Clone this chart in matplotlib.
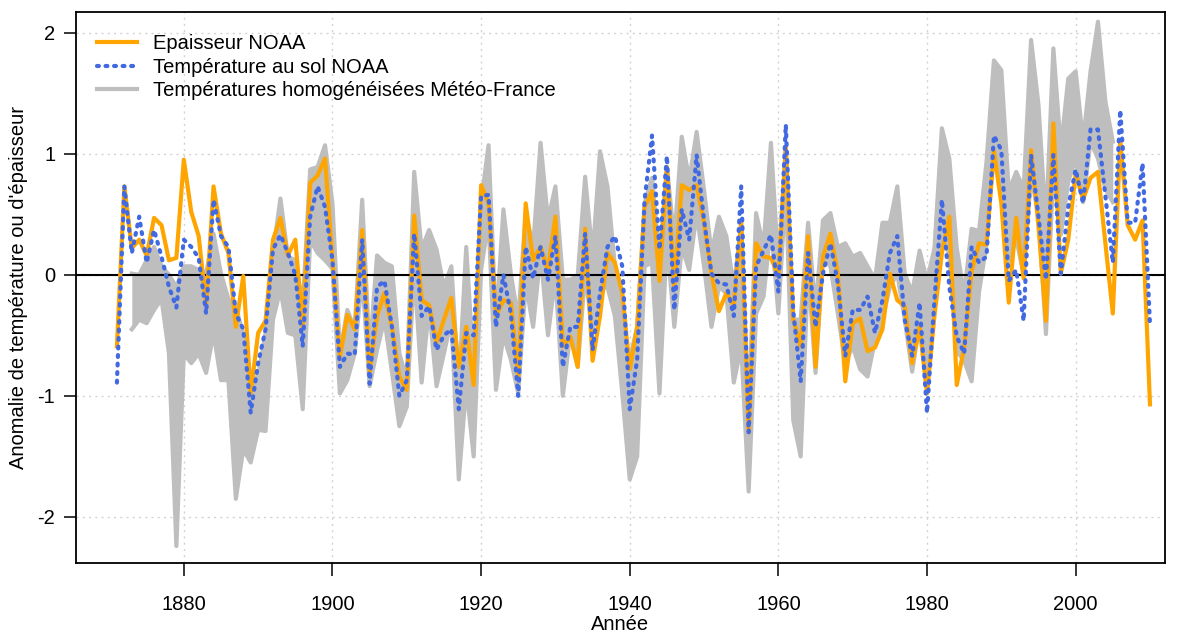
import numpy as np
import matplotlib
matplotlib.use("Agg")
from matplotlib import pyplot as plt

plt.rcParams["font.family"] = ["Liberation Sans", "DejaVu Sans"]

# NOAA series, 1871-2010
years = np.arange(1871, 2011)

epaisseur_noaa = [
    -0.59, 0.73, 0.22, 0.29, 0.16, 0.47, 0.41, 0.12, 0.14, 0.95,
    0.52, 0.32, -0.25, 0.73, 0.34, 0.18, -0.43, -0.01, -0.98, -0.48,
    -0.38, 0.29, 0.47, 0.16, 0.29, -0.43, 0.76, 0.82, 0.96, 0.12,
    -0.68, -0.33, -0.45, 0.37, -0.80, -0.34, -0.15, -0.43, -0.84, -0.95,
    0.49, -0.21, -0.25, -0.56, -0.37, -0.19, -0.76, -0.43, -0.91, 0.74,
    0.59, -0.34, -0.21, -0.23, -0.84, 0.59, 0.12, 0.23, 0.04, 0.48,
    -0.59, -0.51, -0.76, 0.38, -0.71, -0.34, 0.18, 0.10, -0.15, -0.78,
    -0.43, 0.56, 0.69, -0.05, 0.89, -0.10, 0.74, 0.70, 0.74, 0.43,
    0.01, -0.30, -0.15, -0.25, 0.44, -1.30, 0.26, 0.15, 0.14, -0.01,
    1.05, -0.37, -0.59, 0.32, -0.76, 0.15, 0.34, 0.01, -0.88, -0.40,
    -0.36, -0.63, -0.60, -0.45, 0.01, -0.21, -0.26, -0.73, -0.43, -0.98,
    -0.34, 0.18, 0.48, -0.91, -0.60, 0.03, 0.26, 0.25, 1.02, 0.59,
    -0.23, 0.47, -0.03, 1.03, 0.40, -0.38, 1.25, 0.01, 0.29, 0.84,
    0.62, 0.80, 0.85, 0.26, -0.32, 1.11, 0.41, 0.29, 0.45, -1.07,
]

temperature_noaa = [
    -0.89, 0.73, 0.18, 0.48, 0.10, 0.37, 0.15, -0.10, -0.27, 0.29,
    0.23, 0.14, -0.32, 0.62, 0.32, 0.23, -0.32, -0.45, -1.14, -0.73,
    -0.45, 0.21, 0.33, 0.18, 0.00, -0.59, 0.48, 0.73, 0.56, 0.12,
    -0.76, -0.65, -0.66, 0.29, -0.90, -0.10, -0.05, -0.43, -1.00, -0.87,
    0.34, -0.34, -0.26, -0.62, -0.50, -0.45, -1.11, -0.48, -0.50, 0.65,
    0.66, -0.43, 0.00, -0.32, -1.00, 0.23, -0.03, 0.23, -0.04, 0.32,
    -0.76, -0.43, -0.43, 0.34, -0.62, -0.15, 0.23, 0.32, 0.07, -1.11,
    -0.70, 0.62, 1.15, 0.21, 0.98, -0.29, 0.54, 0.29, 0.99, 0.45,
    0.01, -0.07, -0.08, -0.34, 0.73, -1.30, 0.07, 0.20, 0.33, -0.14,
    1.24, -0.30, -0.88, 0.18, -0.43, 0.01, 0.26, -0.07, -0.67, -0.29,
    -0.29, -0.18, -0.48, -0.21, 0.18, 0.32, -0.37, -0.67, -0.23, -1.14,
    -0.21, 0.62, -0.10, -0.51, -0.65, 0.23, 0.10, 0.15, 1.15, 1.03,
    -0.05, 0.04, -0.38, 0.99, 0.48, -0.04, 0.99, 0.01, 0.56, 0.87,
    0.59, 1.20, 1.20, 0.65, 0.10, 1.36, 0.43, 0.43, 0.92, -0.41,
]

# Meteo-France stations, 1873-2005: upper and lower edge of the bundle
years_mf = np.arange(1873, 2006)

mf_haut = [
    0.01, 0.00, 0.12, 0.23, 0.07, 0.00, -0.10, 0.07, 0.07, 0.04,
    0.01, 0.34, 0.01, -0.20, -0.26, -0.50, -0.87, -0.84, -0.48, 0.18,
    0.63, 0.15, 0.12, -0.26, 0.87, 0.89, 1.07, 0.59, -0.65, -0.29,
    -0.45, 0.62, -0.65, 0.16, 0.10, 0.07, -0.65, -0.87, 0.85, 0.21,
    0.37, 0.21, -0.10, 0.07, -0.92, 0.23, -0.78, 0.59, 1.07, -0.43,
    0.54, 0.01, -0.37, 0.51, 0.23, 1.09, 0.45, 0.73, -0.04, -0.04,
    -0.01, 0.81, 0.15, 1.02, 0.73, 0.07, -0.40, -0.70, -0.43, 0.59,
    0.80, 0.12, 0.89, 0.29, 1.14, 0.78, 1.18, 0.70, 0.18, 0.48,
    0.32, -0.10, 0.40, -1.14, 0.51, 0.23, 1.09, 0.07, 1.06, -0.37,
    -0.37, 0.43, -0.29, 0.45, 0.51, 0.23, 0.26, 0.15, 0.18, 0.07,
    -0.04, 0.43, 0.43, 0.73, 0.01, -0.15, 0.20, -0.05, 0.22, 1.21,
    0.96, 0.22, -0.16, 0.38, 0.36, 0.93, 1.77, 1.69, 0.69, 0.85,
    0.71, 1.94, 1.40, 0.41, 1.87, 1.04, 1.62, 1.68, 1.10, 1.68,
    2.09, 1.43, 1.10,
]

mf_bas = [
    -0.45, -0.37, -0.40, -0.29, -0.20, -0.65, -2.24, -0.65, -0.73, -0.65,
    -0.81, -0.48, -0.87, -0.87, -1.85, -1.44, -1.55, -1.28, -1.29, -0.37,
    -0.12, -0.48, -0.50, -1.11, 0.29, 0.18, 0.12, 0.05, -0.98, -0.87,
    -0.65, -0.01, -0.92, -0.62, -0.37, -0.80, -1.25, -1.09, 0.04, -0.89,
    -0.26, -0.92, -0.65, -0.37, -1.69, -0.92, -1.50, 0.04, 0.45, -0.95,
    -0.50, -0.70, -0.98, -0.07, -0.43, 0.18, -0.50, -0.01, -1.00, -0.48,
    -0.76, 0.01, -0.48, -0.12, -0.10, -0.34, -0.98, -1.69, -1.50, 0.07,
    0.10, -0.98, 0.29, -0.43, 0.23, 0.04, 0.51, 0.07, -0.43, -0.10,
    -0.15, -0.89, -0.59, -1.79, -0.32, -0.18, 0.40, -0.32, 0.73, -1.20,
    -1.50, 0.04, -0.81, 0.15, 0.07, -0.32, -0.73, -0.59, -0.78, -0.84,
    -0.54, -0.37, -0.10, 0.01, -0.37, -0.80, -0.40, -0.88, -0.19, 0.36,
    0.16, -0.63, -0.71, -0.88, -0.14, 0.25, 1.04, 0.71, 0.11, 0.30,
    0.00, 0.82, 0.49, -0.49, 0.85, 0.33, 0.77, 0.96, 0.60, 1.10,
    0.96, 0.71, 0.60,
]

GRAY = "#bebebe"
ORANGE = "#ffa500"
BLUE = "#4169e1"
FS = 14.5

fig = plt.figure(figsize=(11.79, 6.34), dpi=100)
ax = fig.add_axes([0.0645, 0.112, 0.9235, 0.869])

ax.fill_between(years_mf, mf_bas, mf_haut, color=GRAY, lw=0, zorder=1)
ax.plot(years_mf, mf_haut, color=GRAY, lw=3, solid_joinstyle="round", zorder=1,
        label="Températures homogénéisées Météo-France")
ax.plot(years_mf, mf_bas, color=GRAY, lw=3, solid_joinstyle="round", zorder=1)

ax.axhline(0, color="black", lw=1.5, zorder=2)

ax.plot(years, epaisseur_noaa, color=ORANGE, lw=3, solid_joinstyle="round",
        zorder=3, label="Epaisseur NOAA")
ax.plot(years, temperature_noaa, color=BLUE, lw=3, dashes=(0.45, 1.6),
        dash_capstyle="round", zorder=4, label="Température au sol NOAA")

ax.set_xlim(1865.5, 2012.0)
ax.set_ylim(-2.38, 2.17)
ax.set_xticks(np.arange(1880, 2001, 20))
ax.set_yticks([-2, -1, 0, 1, 2])
ax.set_yticklabels(["-2", "-1", "0", "1", "2"])
ax.grid(True, color="#d3d3d3", linestyle=(0, (1.5, 3)), lw=1)
ax.set_axisbelow(True)

for s in ax.spines.values():
    s.set_linewidth(1.3)
ax.tick_params(axis="both", direction="out", length=9, width=1.1,
               labelsize=FS)
ax.tick_params(axis="x", pad=14)
ax.tick_params(axis="y", pad=6)

ax.set_xlabel("Année", fontsize=FS, labelpad=1)
ax.set_ylabel("Anomalie de température ou d'épaisseur", fontsize=FS,
              labelpad=7)

handles, labels = ax.get_legend_handles_labels()
order = [labels.index("Epaisseur NOAA"), labels.index("Température au sol NOAA"),
         labels.index("Températures homogénéisées Météo-France")]
ax.legend([handles[i] for i in order], [labels[i] for i in order],
          loc="upper left", bbox_to_anchor=(0.0046, 0.989), frameon=False,
          fontsize=FS, handlelength=2.0, handletextpad=0.75,
          labelspacing=0.23, borderaxespad=0.48, borderpad=0.32)

fig.savefig("out.png", dpi=100)
